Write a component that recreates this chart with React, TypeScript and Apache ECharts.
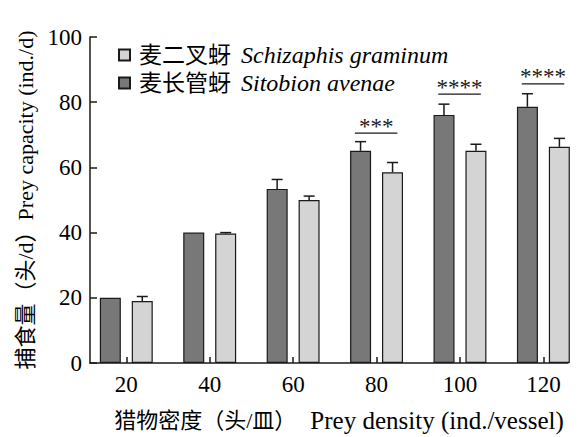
import React, { useEffect, useRef } from 'react';
import * as echarts from 'echarts';

// Data
const densities = [20, 40, 60, 80, 100, 120];
const sitobionName = '麦长管蚜 Sitobion avenae';
const schizaphisName = '麦二叉蚜 Schizaphis graminum';
const sitobionMean = [20.0, 40.0, 53.4, 65.1, 76.1, 78.6];
const sitobionErr = [0, 0, 2.9, 2.8, 3.3, 4.0];
const schizaphisMean = [19.0, 39.7, 50.0, 58.5, 65.1, 66.3];
const schizaphisErr = [1.4, 0.3, 1.2, 3.0, 2.0, 2.6];
const sigDensity = [80, 100, 120];
const sigLevel = [70.5, 82.5, 85.6];
const sigLabel = ['***', '****', '****'];
const yTicks = [0, 20, 40, 60, 80, 100];
const xNameCn = '猎物密度（头/皿）';
const xNameEn = 'Prey density (ind./vessel)';
const yName = '捕食量（头/d）Prey capacity (ind./d)';

const FONT = '"Liberation Serif", "Times New Roman", "Noto Sans CJK SC", serif';
const DARK = '#787878';
const LIGHT = '#d4d4d4';
const INK = '#1a1a1a';
const BAR_W = 21;
const BAR_OFFSET = 16;

function errorRender(offset: number) {
  return (params: any, api: any) => {
    const x = api.value(0);
    const y = api.value(1);
    const e = api.value(2);
    if (!e) return { type: 'group', children: [] };
    const base = api.coord([x, y]);
    const top = api.coord([x, y + e]);
    const cx = base[0] + offset;
    const st = { stroke: INK, lineWidth: 1.5 };
    return {
      type: 'group',
      children: [
        { type: 'line', shape: { x1: cx, y1: base[1], x2: cx, y2: top[1] }, style: st },
        { type: 'line', shape: { x1: cx - 5.5, y1: top[1], x2: cx + 5.5, y2: top[1] }, style: st },
      ],
    };
  };
}

export default function App() {
  const ref = useRef<HTMLDivElement>(null);
  useEffect(() => {
    if (!ref.current) return;
    const chart = echarts.init(ref.current, undefined, { renderer: 'svg' });
    const option: any = {
      animation: false,
      backgroundColor: '#ffffff',
      textStyle: { fontFamily: FONT, color: '#000' },
      grid: { left: 90, right: 13, top: 37, bottom: 74, containLabel: false, outerBoundsMode: 'none' },
      legend: {
        orient: 'vertical',
        left: 118,
        top: 43,
        padding: 0,
        itemWidth: 11,
        itemHeight: 11,
        itemGap: 4,
        icon: 'rect',
        data: [schizaphisName, sitobionName],
        formatter: (name: string) => {
          const i = name.indexOf(' ');
          return `{cn|${name.slice(0, i)}}{la|${name.slice(i + 1)}}`;
        },
        textStyle: {
          fontFamily: FONT,
          fontSize: 23,
          color: '#000',
          rich: {
            cn: { fontFamily: FONT, fontSize: 23, lineHeight: 26, color: '#000', padding: [0, 0, 0, 4] },
            la: { fontFamily: '"Liberation Serif", serif', fontSize: 24, lineHeight: 26, fontStyle: 'italic', color: '#000', padding: [0, 0, 0, 10] },
          },
        },
      },
      xAxis: {
        type: 'value',
        min: 11.3,
        max: 125.9,
        name: `{cn|${xNameCn}}{en|${xNameEn}}`,
        nameLocation: 'middle',
        nameGap: 44,
        nameTextStyle: {
          fontFamily: FONT,
          fontSize: 22,
          color: '#000',
          padding: [0, 0, 0, 20],
          rich: {
            cn: { fontFamily: FONT, fontSize: 22, lineHeight: 26, color: '#000' },
            en: { fontFamily: FONT, fontSize: 25, lineHeight: 26, color: '#000', padding: [0, 0, 0, 14] },
          },
        },
        axisLine: { show: true, lineStyle: { color: INK, width: 1.5 } },
        axisTick: { show: true, inside: true, length: 6, customValues: densities, lineStyle: { color: INK, width: 1.5 } },
        axisLabel: { customValues: densities, fontFamily: FONT, fontSize: 23, color: '#000', margin: 10 },
        splitLine: { show: false },
      },
      yAxis: {
        type: 'value',
        min: 0,
        max: 100,
        interval: 20,
        name: yName,
        nameLocation: 'middle',
        nameGap: 47,
        nameTextStyle: { fontFamily: FONT, fontSize: 22, color: '#000' },
        axisLine: { show: true, lineStyle: { color: INK, width: 1.5 } },
        axisTick: { show: true, inside: true, length: 7, lineStyle: { color: INK, width: 1.5 } },
        axisLabel: { fontFamily: FONT, fontSize: 23, color: '#000', margin: 8, customValues: yTicks },
        splitLine: { show: false },
      },
      series: [
        {
          name: sitobionName,
          type: 'bar',
          barWidth: BAR_W,
          barGap: '52%',
          itemStyle: { color: DARK, borderColor: INK, borderWidth: 1.2 },
          data: densities.map((d, i) => [d, sitobionMean[i]]),
        },
        {
          name: schizaphisName,
          type: 'bar',
          barWidth: BAR_W,
          barGap: '52%',
          itemStyle: { color: LIGHT, borderColor: INK, borderWidth: 1.2 },
          data: densities.map((d, i) => [d, schizaphisMean[i]]),
        },
        {
          type: 'custom',
          name: 'errSitobion',
          renderItem: errorRender(-BAR_OFFSET),
          data: densities.map((d, i) => [d, sitobionMean[i], sitobionErr[i]]),
          z: 5,
        },
        {
          type: 'custom',
          name: 'errSchizaphis',
          renderItem: errorRender(BAR_OFFSET),
          data: densities.map((d, i) => [d, schizaphisMean[i], schizaphisErr[i]]),
          z: 5,
        },
        {
          type: 'custom',
          name: 'significance',
          renderItem: (params: any, api: any) => {
            const x = api.value(0);
            const y = api.value(1);
            const l = api.coord([x - 5.2, y]);
            const r = api.coord([x + 5.0, y]);
            return {
              type: 'group',
              children: [
                { type: 'line', shape: { x1: l[0], y1: l[1], x2: r[0], y2: r[1] }, style: { stroke: INK, lineWidth: 1.2 } },
                {
                  type: 'text',
                  x: (l[0] + r[0]) / 2,
                  y: l[1] - 7,
                  style: {
                    text: sigLabel[params.dataIndex],
                    fontFamily: FONT,
                    fontSize: 23,
                    fill: INK,
                    align: 'center',
                    verticalAlign: 'middle',
                  },
                },
              ],
            };
          },
          data: sigDensity.map((d, i) => [d, sigLevel[i]]),
          z: 5,
        },
      ],
    };
    chart.setOption(option);
    return () => chart.dispose();
  }, []);
  return (
    <div
      ref={ref}
      style={{ position: 'fixed', left: 0, top: 0, width: 581, height: 437, background: '#fff' }}
    />
  );
}
